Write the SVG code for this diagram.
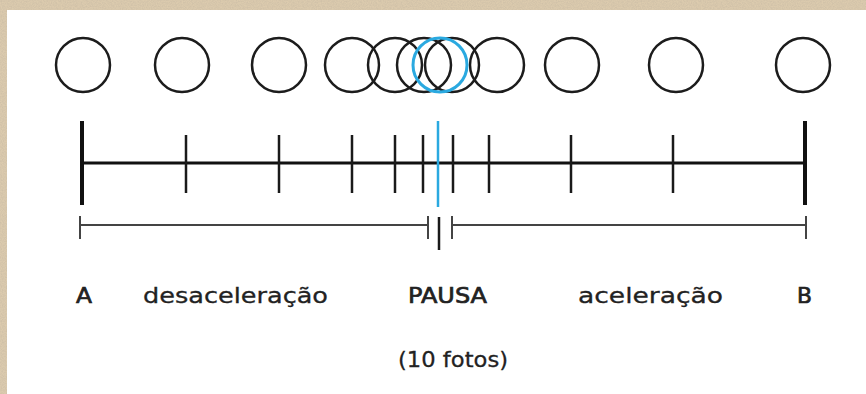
<svg xmlns="http://www.w3.org/2000/svg" width="866" height="394" viewBox="0 0 866 394">
  <defs>
    <filter id="grain" x="0" y="0" width="100%" height="100%">
      <feTurbulence type="fractalNoise" baseFrequency="0.8" numOctaves="3" seed="5" result="n"/>
      <feColorMatrix in="n" type="matrix" values="0 0 0 0 0.55  0 0 0 0 0.47  0 0 0 0 0.36  0 0 0 0.9 -0.25"/>
    </filter>
  </defs>
  <style>
    .frame { fill: none; stroke: #1c1c1c; stroke-width: 2.5; }
    .frame-blue { fill: none; stroke: #2aa9e0; stroke-width: 3; }
    .tick { stroke: #1a1a1a; stroke-width: 2.5; }
    .end { stroke: #111; stroke-width: 4; }
    .axis { stroke: #111; stroke-width: 3; }
    .range { stroke: #444; stroke-width: 2; fill: none; }
    .lbl { font-family: "DejaVu Sans", Inter, sans-serif; font-size: 22px; fill: #222; stroke: #222; stroke-width: 0.3; }
    .bold { stroke-width: 0.7; }
  </style>
  <rect x="0" y="0" width="866" height="394" fill="#dccbae"/>
  <rect x="0" y="0" width="866" height="394" filter="url(#grain)"/>
  <rect x="7" y="10" width="859" height="384" fill="#ffffff"/>

  <g id="frames">
    <circle class="frame" cx="83" cy="65" r="27"/>
    <circle class="frame" cx="182" cy="65" r="27"/>
    <circle class="frame" cx="279" cy="65" r="27"/>
    <circle class="frame" cx="352" cy="65" r="27"/>
    <circle class="frame" cx="395" cy="65" r="27"/>
    <circle class="frame" cx="424" cy="65" r="27"/>
    <circle class="frame" cx="452" cy="65" r="27"/>
    <circle class="frame" cx="497" cy="65" r="27"/>
    <circle class="frame" cx="572" cy="65" r="27"/>
    <circle class="frame" cx="676" cy="65" r="27"/>
    <circle class="frame" cx="803" cy="65" r="27"/>
    <circle id="pause-frame" class="frame-blue" cx="440" cy="65" r="27"/>
  </g>

  <g id="timeline">
    <line class="axis" x1="82" y1="163" x2="805" y2="163"/>
    <line class="end" x1="82" y1="121" x2="82" y2="205"/>
    <line class="end" x1="805" y1="121" x2="805" y2="205"/>
    <line class="tick" x1="186" y1="135" x2="186" y2="193"/>
    <line class="tick" x1="279" y1="135" x2="279" y2="193"/>
    <line class="tick" x1="352" y1="135" x2="352" y2="193"/>
    <line class="tick" x1="395" y1="135" x2="395" y2="193"/>
    <line class="tick" x1="423" y1="135" x2="423" y2="193"/>
    <line class="tick" x1="453" y1="135" x2="453" y2="193"/>
    <line class="tick" x1="489" y1="135" x2="489" y2="193"/>
    <line class="tick" x1="571" y1="135" x2="571" y2="193"/>
    <line class="tick" x1="673" y1="135" x2="673" y2="193"/>
    <line id="pause-line" x1="438" y1="121" x2="438" y2="207" stroke="#2aa9e0" stroke-width="2.5"/>
  </g>

  <g id="ranges">
    <path class="range" d="M80 225 H428 M80 216 V239 M428 216 V239"/>
    <path class="range" d="M452 225 H806 M452 216 V239 M806 216 V239"/>
    <line x1="439" y1="217" x2="439" y2="250" stroke="#1a1a1a" stroke-width="2.5"/>
  </g>

  <g id="labels">
    <text class="lbl bold" x="76" y="303" textLength="16" lengthAdjust="spacingAndGlyphs">A</text>
    <text class="lbl" x="143" y="303" textLength="185" lengthAdjust="spacingAndGlyphs">desaceleração</text>
    <text class="lbl bold" x="408" y="303" textLength="79" lengthAdjust="spacingAndGlyphs">PAUSA</text>
    <text class="lbl" x="578" y="303" textLength="145" lengthAdjust="spacingAndGlyphs">aceleração</text>
    <text class="lbl bold" x="797" y="303" textLength="15" lengthAdjust="spacingAndGlyphs">B</text>
    <text class="lbl" x="398" y="367" textLength="110" lengthAdjust="spacingAndGlyphs">(10 fotos)</text>
  </g>
</svg>
